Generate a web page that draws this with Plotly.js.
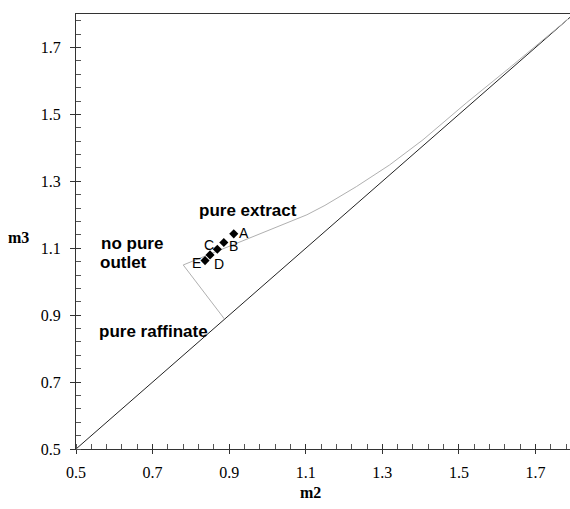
<!DOCTYPE html>
<html>
<head>
<meta charset="utf-8">
<script src="https://cdn.plot.ly/plotly-3.0.1.min.js"></script>
<style>html,body{margin:0;padding:0;background:#fff;}#chart{width:570px;height:509px;}</style>
</head>
<body>
<div id="chart"></div>
<script>
// Diagonal m3 = m2
const diagX = [0.5, 1.79];
const diagY = [0.5, 1.79];
// Boundary of the complete separation region (gray)
const boundX = [0.888, 0.780, 1.103, 1.150, 1.232, 1.319, 1.406, 1.519, 1.632, 1.785];
const boundY = [0.888, 1.050, 1.200, 1.228, 1.284, 1.349, 1.424, 1.534, 1.639, 1.785];
// Operating points
const ptLabels = ["A", "B", "C", "D", "E"];
const ptX = [0.912, 0.886, 0.869, 0.850, 0.837];
const ptY = [1.143, 1.117, 1.097, 1.080, 1.063];
// Region labels
const regionText = ["pure extract", "no pure", "outlet", "pure raffinate"];
const regionX = [0.949, 0.645, 0.625, 0.703];
const regionY = [1.212, 1.115, 1.057, 0.850];

// label pixel offsets (style only)
const ptShiftX = [10, 10, -8, 9, -9];
const ptShiftY = [1, -3, 4, -9, -2];

const traces = [
  {x: diagX, y: diagY, mode: "lines", line: {color: "#222", width: 1}, hoverinfo: "skip"},
  {x: boundX, y: boundY, mode: "lines", line: {color: "#b0b0b0", width: 1}, hoverinfo: "skip"},
  {x: ptX, y: ptY, mode: "markers",
   marker: {symbol: "diamond", size: 7, color: "#000"}},
  {x: [0.5], y: [0.5], xaxis: "x2", yaxis: "y2", mode: "markers", marker: {opacity: 0}, hoverinfo: "skip"}
];

const annotations = regionText.map((t, i) => ({
  x: regionX[i], y: regionY[i], xref: "x", yref: "y", text: "<b>" + t + "</b>",
  showarrow: false, font: {family: "Liberation Sans, Arial, sans-serif", size: 17, color: "#000"}
}));
ptLabels.forEach((t, i) => annotations.push({
  x: ptX[i], y: ptY[i], xref: "x", yref: "y", text: t, showarrow: false,
  xshift: ptShiftX[i], yshift: ptShiftY[i], xanchor: "center", yanchor: "middle",
  font: {family: "Liberation Sans, Arial, sans-serif", size: 14, color: "#000"}
}));
annotations.push({xref: "paper", yref: "paper", x: -0.117, y: 0.487, xanchor: "center", yanchor: "middle",
  text: "<b>m3</b>", showarrow: false,
  font: {family: "Liberation Serif, Times New Roman, serif", size: 16, color: "#000"}});
annotations.push({xref: "paper", yref: "paper", x: 0.474, y: -0.0996, xanchor: "center", yanchor: "middle",
  text: "<b>m2</b>", showarrow: false,
  font: {family: "Liberation Serif, Times New Roman, serif", size: 16, color: "#000"}});

const tickFont = {family: "Liberation Serif, Times New Roman, serif", size: 16, color: "#000"};
const layout = {
  width: 570, height: 509,
  margin: {l: 76, r: 0, t: 14, b: 60, pad: 0},
  paper_bgcolor: "#fff", plot_bgcolor: "#fff",
  showlegend: false,
  xaxis: {range: [0.5, 1.79], tick0: 0.5, dtick: 0.2, tickformat: ".1f",
    ticks: "outside", ticklen: 4, tickcolor: "#333", showgrid: false, zeroline: false,
    showline: true, linecolor: "#333", linewidth: 1, mirror: true,
    tickfont: tickFont, ticklabelstandoff: 5,
    minor: {ticks: "inside", ticklen: 5, dtick: 0.04, tick0: 0.5, tickcolor: "#555", showgrid: false}},
  yaxis: {range: [0.5, 1.8], tick0: 0.5, dtick: 0.2, tickformat: ".1f",
    ticks: "outside", ticklen: 5, tickcolor: "#333", showgrid: false, zeroline: false,
    showline: true, linecolor: "#333", linewidth: 1,
    tickfont: tickFont, ticklabelstandoff: 6,
    minor: {ticks: "inside", ticklen: 5, dtick: 0.04, tick0: 0.5, tickcolor: "#555", showgrid: false}},
  xaxis2: {overlaying: "x", range: [0.5, 1.79], tick0: 0.5, dtick: 0.2, ticks: "inside", ticklen: 5,
    tickcolor: "#333", showticklabels: false, showgrid: false, zeroline: false, showline: false},
  yaxis2: {overlaying: "y", range: [0.5, 1.8], tick0: 0.5, dtick: 0.2, ticks: "inside", ticklen: 5,
    tickcolor: "#333", showticklabels: false, showgrid: false, zeroline: false, showline: false},
  annotations: annotations
};

Plotly.newPlot("chart", traces, layout, {displayModeBar: false, staticPlot: true});
</script>
</body>
</html>
